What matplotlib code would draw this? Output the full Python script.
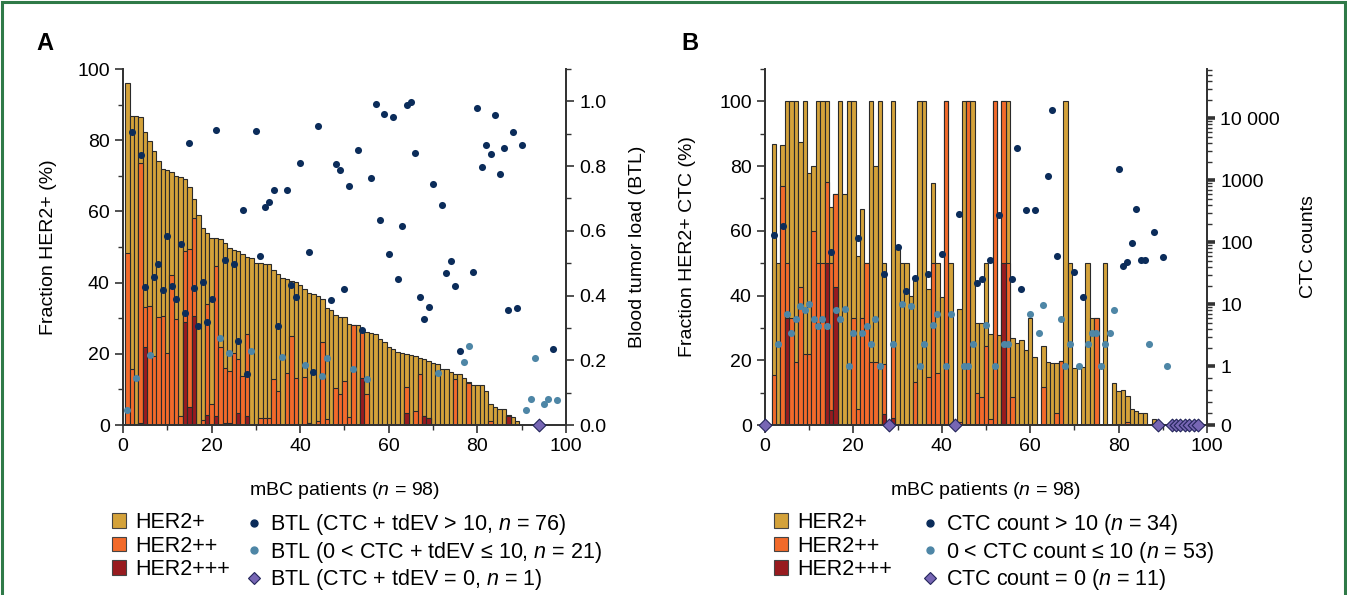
import numpy as np
import matplotlib
matplotlib.use('Agg')
import matplotlib.pyplot as plt
from matplotlib.patches import Patch, Rectangle
from matplotlib.lines import Line2D
from matplotlib.ticker import MultipleLocator, FixedLocator, NullFormatter

plt.rcParams.update({
    'font.family': ['Liberation Sans', 'DejaVu Sans'],
    'mathtext.fontset': 'custom',
    'mathtext.rm': 'Liberation Sans',
    'mathtext.it': 'Liberation Sans:italic',
    'font.size': 14,
})

# ── panel A: HER2 fraction per patient (cumulative tops) and blood tumour load
a_total = [96.2, 86.9, 86.9, 86.4, 82.4, 79.9, 77.0, 74.2, 71.9, 71.6,
           71.1, 69.9, 69.7, 69.2, 66.9, 63.6, 59.0, 55.4, 54.0, 52.5,
           52.5, 52.2, 51.0, 49.8, 49.3, 48.9, 48.0, 47.3, 47.0, 45.6,
           45.6, 45.2, 45.2, 43.5, 42.5, 41.2, 40.9, 40.5, 40.2, 39.2,
           38.3, 37.1, 36.8, 36.1, 35.3, 32.9, 32.4, 30.9, 30.3, 30.3,
           28.3, 28.1, 28.0, 26.8, 26.2, 25.9, 25.7, 24.3, 23.4, 22.0,
           21.4, 20.6, 20.1, 19.9, 19.6, 19.3, 18.8, 18.5, 17.9, 17.3,
           17.0, 15.7, 15.7, 14.9, 14.4, 14.2, 13.2, 12.1, 11.1, 11.1,
           11.1, 9.5, 5.8, 5.0, 4.4, 4.4, 2.7, 2.2, 1.0, 0,
           0, 0, 0, 0, 0, 0, 0, 0]
a_her2pp = [48.2, 15.8, 0, 73.7, 33.1, 33.3, 19.4, 30.2, 30.7, 20.2,
            42.1, 29.8, 2.5, 48.8, 49.5, 58.1, 0, 1.5, 34.1, 5.9,
            44.7, 21.8, 15.9, 15.2, 20.2, 18.6, 13.8, 25.6, 0, 0,
            2.0, 2.0, 2.1, 12.8, 9.6, 0, 14.6, 25.0, 13.3, 0,
            13.5, 0.5, 0, 1.2, 23.3, 1.8, 0, 10.3, 8.6, 12.4,
            2.2, 28.1, 0, 26.8, 8.6, 0, 0, 0, 0, 0,
            0, 0, 0, 10.7, 0, 3.9, 14.2, 2.5, 2.1, 0,
            0, 0, 0, 0, 12.8, 0, 0, 11.8, 0, 0,
            0, 0, 1.2, 0, 0, 0, 2.5, 0, 0, 0,
            0, 0, 0, 0, 0, 0, 0, 0]
a_her2ppp = [0, 0, 0, 0.6, 22.0, 0, 0, 0, 0, 0,
             0, 0, 0, 28.8, 5.0, 30.7, 0, 0, 2.7, 0,
             2.5, 0, 0.6, 0.6, 0, 3.5, 0, 2.5, 0, 0,
             0, 0, 0, 0, 0, 0, 0, 0, 0, 0,
             0, 0.5, 0, 0, 0, 0, 0, 0, 0, 0,
             0, 0, 0, 13.1, 0, 0, 0, 0, 0, 0,
             0, 0, 0, 3.5, 0, 0, 0, 2.5, 2.1, 0,
             0, 0, 0, 0, 0, 0, 0, 0, 0, 0,
             0, 0, 0, 0, 0, 0, 2.5, 0, 0, 0,
             0, 0, 0, 0, 0, 0, 0, 0]
a_btl = [0.046, 0.904, 0.144, 0.834, 0.426, 0.216, 0.457, 0.496, 0.418, 0.585,
         0.428, 0.388, 0.558, 0.347, 0.870, 0.423, 0.307, 0.443, 0.317, 0.390,
         0.913, 0.269, 0.509, 0.221, 0.497, 0.259, 0.664, 0.158, 0.230, 0.910,
         0.522, 0.674, 0.689, 0.725, 0.307, 0.210, 0.725, 0.432, 0.395, 0.809,
         0.184, 0.534, 0.164, 0.925, 0.150, 0.208, 0.385, 0.806, 0.789, 0.421,
         0.739, 0.172, 0.850, 0.295, 0.141, 0.763, 0.993, 0.635, 0.960, 0.527,
         0.951, 0.451, 0.614, 0.988, 0.997, 0.840, 0.395, 0.328, 0.364, 0.744,
         0.162, 0.681, 0.469, 0.507, 0.431, 0.229, 0.194, 0.244, 0.474, 0.981,
         0.798, 0.866, 0.838, 0.959, 0.775, 0.855, 0.354, 0.904, 0.361, 0.866,
         0.047, 0.079, 0.208, 0.0, 0.064, 0.079, 0.234, 0.077]
# 2: CTC + tdEV > 10, 1: 0 < CTC + tdEV <= 10, 0: CTC + tdEV = 0
a_group = [1, 2, 1, 2, 2, 1, 2, 2, 2, 2,
           2, 2, 2, 2, 2, 2, 2, 2, 2, 2,
           2, 1, 2, 1, 2, 2, 2, 2, 1, 2,
           2, 2, 2, 2, 2, 1, 2, 2, 2, 2,
           1, 2, 2, 2, 1, 1, 2, 2, 2, 2,
           2, 1, 2, 2, 1, 2, 2, 2, 2, 2,
           2, 2, 2, 2, 2, 2, 2, 2, 2, 2,
           1, 2, 2, 2, 2, 2, 1, 1, 2, 2,
           2, 2, 2, 2, 2, 2, 2, 2, 2, 2,
           1, 1, 1, 0, 1, 1, 2, 1]

# ── panel B: HER2 fraction of CTC per patient and CTC counts
# patient positions (slot 1 is left empty in the original)
b_x = [0] + list(range(2, 99))
b_total = [0, 86.9, 50, 86.6, 100, 100, 100, 87.5, 100, 78,
           80, 100, 100, 100, 67.4, 71.5, 100, 71.5, 100, 100,
           52.3, 66.7, 50, 100, 80, 100, 50, 0, 100, 55.4,
           50, 50, 39.8, 45.3, 100, 100, 42.0, 74.8, 50, 39.4,
           100, 50, 0, 36.0, 100, 100, 100, 31.4, 31.4, 50,
           28.2, 100, 27.7, 100, 100, 26.9, 25.4, 26.2, 23.3, 33.2,
           21.1, 0, 24.4, 19.5, 19.3, 19.3, 19.7, 100, 50, 17.5,
           0, 17.8, 50, 33.2, 33.2, 0, 50, 0, 13.0, 10.6,
           10.8, 9.0, 5.1, 4.3, 3.7, 3.7, 0, 2.0, 0, 0,
           0, 0, 0, 0, 0, 0, 0, 0]
b_her2pp = [0, 15.6, 0, 73.8, 50, 33.2, 19.5, 42.7, 21.9, 21.9,
            59.9, 50, 50, 75, 50, 71.5, 0, 0, 0, 33.2,
            4.9, 33.2, 50, 19.5, 19.5, 0, 19, 0, 25, 0,
            0, 0, 0, 13.3, 0, 0, 14.9, 50, 16.2, 0,
            100, 0, 0, 1.0, 0, 100, 0, 9.9, 8.6, 24.4,
            2.0, 100, 0, 100, 50, 8.6, 0, 0, 0, 0,
            0, 0, 11.8, 0, 0, 3.6, 19.7, 0, 0, 0,
            0, 0, 0, 0, 33.2, 0, 0, 0, 0, 0,
            0, 1.0, 0, 0, 0, 0, 0, 0, 0, 0,
            0, 0, 0, 0, 0, 0, 0, 0]
b_her2ppp = [0, 0, 0, 0, 33.2, 0, 0, 0, 0, 0,
             0, 0, 0, 50, 4.6, 42.7, 0, 0, 0, 0,
             0, 0, 0, 0, 0, 0, 3.5, 0, 2.3, 0,
             0, 0, 0, 0, 0, 0, 0, 0, 0, 0,
             0, 0, 0, 0, 0, 0, 0, 0, 0, 0,
             0, 0, 0, 50, 0, 0, 0, 0, 0, 0,
             0, 0, 0, 0, 0, 0, 0, 0, 0, 0,
             0, 0, 0, 0, 0, 0, 0, 0, 0, 0,
             0, 0, 0, 0, 0, 0, 0, 0, 0, 0,
             0, 0, 0, 0, 0, 0, 0, 0]
b_ctc = [0, 129, 2.3, 182, 7.1, 3.4, 5.8, 9.5, 8.1, 10,
         5.8, 4.5, 5.8, 4.5, 69, 8.1, 5.8, 8.3, 1, 3.4,
         117, 3.4, 4.5, 2.3, 5.8, 1, 31, 0, 2.3, 84,
         10, 16.5, 9.5, 26.5, 1, 2.3, 31, 4.6, 7, 64,
         1, 7, 0, 284, 1, 1, 2.3, 22, 26, 4.6,
         52, 1, 277, 2.3, 2.3, 26, 3300, 17.8, 335, 7,
         335, 3.5, 9.6, 1150, 13700, 61, 5.8, 1, 2.3, 33,
         1, 13, 2.3, 3.5, 3.5, 1, 2.3, 3.5, 8.2, 1510,
         41, 48, 98, 350, 51, 52, 2.3, 146, 0, 57,
         1, 0, 0, 0, 0, 0, 0, 0]

a_x = np.arange(1, len(a_total) + 1)
b_x = np.array(b_x)

C_P = '#D4A23A'
C_PP = '#F26A2A'
C_PPP = '#981B1F'
C_DARK = '#0B2C5A'
C_LIGHT = '#4E86A6'
C_DIAM = '#7766B4'
EDGE = '#2A2A2A'
SPINE = '#333333'

fig = plt.figure(figsize=(13.47, 5.95), dpi=100)
fig.patch.set_facecolor('white')
fig.add_artist(Rectangle((0.0015, -0.1), 0.997, 1.097, transform=fig.transFigure,
                         fill=False, edgecolor='#2F7A48', lw=2.2))

axA = fig.add_axes([0.0913, 0.2857, 0.3289, 0.5983])
axB = fig.add_axes([0.5679, 0.2857, 0.3281, 0.5983])


def draw_bars(ax, x, total, pp, ppp):
    kw = dict(width=1.0, edgecolor=EDGE, linewidth=0.8, zorder=2)
    ax.bar(x, total, color=C_P, **kw)
    ax.bar(x, pp, color=C_PP, **kw)
    ax.bar(x, ppp, color=C_PPP, **kw)


def style(ax, axr):
    for a in (ax, axr):
        a.spines['top'].set_visible(False)
        for s in ('left', 'right', 'bottom'):
            a.spines[s].set_color(SPINE)
            a.spines[s].set_linewidth(1.3)
        a.tick_params(which='major', direction='out', length=6, width=1.2,
                      color=SPINE, labelsize=14)
        a.tick_params(which='minor', direction='out', length=3.5, width=1.0,
                      color=SPINE)
    ax.set_xlim(0, 100)
    ax.xaxis.set_major_locator(MultipleLocator(20))
    ax.xaxis.set_minor_locator(MultipleLocator(10))
    ax.yaxis.set_major_locator(MultipleLocator(20))
    ax.yaxis.set_minor_locator(MultipleLocator(10))
    ax.set_xlabel('mBC patients ($n$ = 98)', fontsize=14)
    ax.xaxis.set_label_coords(0.5, -0.155)


# ── panel A
draw_bars(axA, a_x, a_total, a_her2pp, a_her2ppp)
axA.set_ylim(0, 100)
axAr = axA.twinx()
axAr.set_ylim(0, 1.1)
axAr.yaxis.set_major_locator(MultipleLocator(0.2))
axAr.yaxis.set_minor_locator(MultipleLocator(0.1))
axAr.yaxis.set_major_formatter(matplotlib.ticker.FormatStrFormatter('%.1f'))
style(axA, axAr)
btl = np.array(a_btl)
grp = np.array(a_group)
axAr.scatter(a_x[grp == 2], btl[grp == 2], s=26, color=C_DARK, lw=0, zorder=4)
axAr.scatter(a_x[grp == 1], btl[grp == 1], s=26, color=C_LIGHT, lw=0, zorder=4)
axAr.scatter(a_x[grp == 0], btl[grp == 0], s=42, marker='D', color=C_DIAM,
             edgecolor='#23255a', lw=0.8, zorder=5, clip_on=False)
axA.set_ylabel('Fraction HER2+ (%)', fontsize=14)
axA.yaxis.set_label_coords(-0.148, 0.5)
axAr.set_ylabel('Blood tumor load (BTL)', fontsize=14)
axAr.yaxis.set_label_coords(1.143, 0.5)
fig.text(45 / 1347, 1 - 43 / 595, 'A', fontsize=17, fontweight='bold',
         ha='center', va='center')

# ── panel B
draw_bars(axB, b_x, b_total, b_her2pp, b_her2ppp)
axB.set_ylim(0, 110)
axBr = axB.twinx()
axBr.set_yscale('symlog', linthresh=1, linscale=0.85)
axBr.set_ylim(0, 62000)
axBr.yaxis.set_major_locator(FixedLocator([0, 1, 10, 100, 1000, 10000]))
axBr.yaxis.set_major_formatter(
    matplotlib.ticker.FixedFormatter(['0', '1', '10', '100', '1000', '10 000']))
minor = [0.2, 0.4, 0.6, 0.8] + [m * 10 ** d for d in range(0, 5) for m in range(2, 10)
                                if m * 10 ** d < 62000]
axBr.yaxis.set_minor_locator(FixedLocator(minor))
axBr.yaxis.set_minor_formatter(NullFormatter())
style(axB, axBr)
axBr.tick_params(which='major', width=2.6)
ctc = np.array(b_ctc)
hi = ctc > 10
lo = (ctc > 0) & (ctc <= 10)
zero = ctc == 0
axBr.scatter(b_x[hi], ctc[hi], s=26, color=C_DARK, lw=0, zorder=4)
axBr.scatter(b_x[lo], ctc[lo], s=26, color=C_LIGHT, lw=0, zorder=4)
axBr.scatter(b_x[zero], ctc[zero], s=42, marker='D', color=C_DIAM,
             edgecolor='#23255a', lw=0.8, zorder=5, clip_on=False)
axB.set_ylabel('Fraction HER2+ CTC (%)', fontsize=14)
axB.yaxis.set_label_coords(-0.155, 0.5)
axBr.set_ylabel('CTC counts', fontsize=14)
axBr.yaxis.set_label_coords(1.21, 0.5)
fig.text(690 / 1347, 1 - 43 / 595, 'B', fontsize=17, fontweight='bold',
         ha='center', va='center')

# ── legends: one legend per column so each column sits where the original has it
LEG_FS = 15.5
leg_kw = dict(frameon=False, fontsize=LEG_FS, handlelength=0.65, handleheight=0.65,
              handletextpad=0.42, labelspacing=0.12, borderpad=0, borderaxespad=0,
              loc='upper left')
bar_labels = ['HER2+', 'HER2++', 'HER2+++']
a_dot_labels = ['BTL (CTC + tdEV > 10, $n$ = 76)',
                'BTL (0 < CTC + tdEV ≤ 10, $n$ = 21)',
                'BTL (CTC + tdEV = 0, $n$ = 1)']
b_dot_labels = ['CTC count > 10 ($n$ = 34)',
                '0 < CTC count ≤ 10 ($n$ = 53)',
                'CTC count = 0 ($n$ = 11)']


def bar_handles():
    return [Patch(facecolor=c, edgecolor='#444444', lw=0.8) for c in (C_P, C_PP, C_PPP)]


def dot_handles():
    return [Line2D([], [], ls='', marker='o', ms=5, color=C_DARK),
            Line2D([], [], ls='', marker='o', ms=5, color=C_LIGHT),
            Line2D([], [], ls='', marker='D', ms=6, mfc=C_DIAM, mec='#23255a', mew=0.8)]


LEG_TOP = 1 - 512 / 595
fig.legend(bar_handles(), bar_labels, bbox_to_anchor=(112 / 1347, LEG_TOP), **leg_kw)
fig.legend(dot_handles(), a_dot_labels, bbox_to_anchor=(247 / 1347, LEG_TOP), **leg_kw)
fig.legend(bar_handles(), bar_labels, bbox_to_anchor=(774 / 1347, LEG_TOP), **leg_kw)
fig.legend(dot_handles(), b_dot_labels, bbox_to_anchor=(923 / 1347, LEG_TOP), **leg_kw)

fig.savefig('out.png', dpi=100, facecolor='white')
